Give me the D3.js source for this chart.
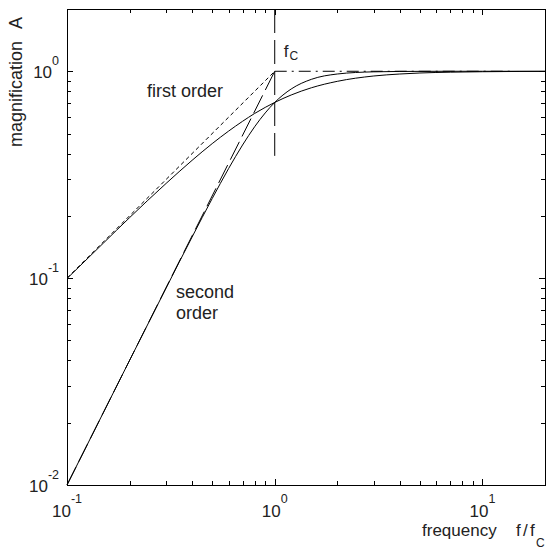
<!DOCTYPE html>
<html>
<head>
<meta charset="utf-8">
<script src="https://cdn.jsdelivr.net/npm/d3@7"></script>
<style>
  body { margin: 0; background: #fff; }
  text { font-family: "Liberation Sans", Arial, sans-serif; fill: #222; }
</style>
</head>
<body>
<div id="chart"></div>
<script>
// values (frequency f/fc, magnification A)
var freq        = [0.1, 0.15, 0.2, 0.3, 0.4, 0.5, 0.6, 0.7, 0.8, 0.9, 1, 1.2, 1.5, 2, 3, 4, 5, 7, 10, 15, 20];
var firstOrder  = [0.0995, 0.148, 0.196, 0.287, 0.371, 0.447, 0.514, 0.573, 0.625, 0.669, 0.707, 0.768, 0.832, 0.894, 0.949, 0.970, 0.981, 0.990, 0.995, 0.998, 0.999];
var secondOrder = [0.01, 0.0225, 0.04, 0.0896, 0.158, 0.2425, 0.339, 0.440, 0.539, 0.629, 0.707, 0.821, 0.914, 0.970, 0.994, 0.998, 0.999, 1.0, 1.0, 1.0, 1.0];

// asymptotes and the cut-off marker
var asymFreq    = [0.1, 1];
var asymFirstA  = [0.1, 1];
var asymSecondA = [0.01, 1];
var plateauFreq = [1, 14];
var plateauA    = [1, 1];
var cutoffFreq  = [1, 1];
var cutoffA     = [2, 0.39];

// tick labels (powers of ten)
var xTickExp = [-1, 0, 1];
var yTickExp = [-2, -1, 0];
var xMinor = [0.2, 0.3, 0.4, 0.5, 0.6, 0.7, 0.8, 0.9, 2, 3, 4, 5, 6, 7, 8, 9];
var yMinor = [0.02, 0.03, 0.04, 0.05, 0.06, 0.07, 0.08, 0.09, 0.2, 0.3, 0.4, 0.5, 0.6, 0.7, 0.8, 0.9];

var width = 546, height = 551,
    margin = {left: 67, right: 1, top: 9, bottom: 66},
    w = width - margin.left - margin.right,
    h = height - margin.top - margin.bottom;

var X = d3.scaleLog().domain([0.1, 20]).range([0, w]),
    Y = d3.scaleLog().domain([0.01, 2]).range([h, 0]);

var svg = d3.select('#chart').append('svg')
    .attr('width', width)
    .attr('height', height)
    .append('g')
    .attr('transform', 'translate(' + margin.left + ',' + margin.top + ')');

function zip(xs, ys) {
    return xs.map(function (x, i) { return [x, ys[i]]; });
}

// inside ticks on all four sides
function ticks(axis, vals, size, transform) {
    svg.append('g')
        .attr('transform', transform || null)
        .call(axis.tickValues(vals).tickSize(size).tickFormat(''))
        .call(function (g) { g.select('.domain').remove(); })
        .selectAll('line').attr('stroke', '#000').attr('shape-rendering', 'crispEdges');
}
var xMajor = xTickExp.map(function (e) { return Math.pow(10, e); }),
    yMajor = yTickExp.map(function (e) { return Math.pow(10, e); });
ticks(d3.axisBottom(X), xMajor, -6, 'translate(0,' + h + ')');
ticks(d3.axisBottom(X), xMinor, -4, 'translate(0,' + h + ')');
ticks(d3.axisTop(X), xMajor, -6);
ticks(d3.axisTop(X), xMinor, -4);
ticks(d3.axisLeft(Y), yMajor, -6);
ticks(d3.axisLeft(Y), yMinor, -4);
ticks(d3.axisRight(Y), yMajor, -6, 'translate(' + w + ',0)');
ticks(d3.axisRight(Y), yMinor, -4, 'translate(' + w + ',0)');

svg.append('rect')
    .attr('x', 0).attr('y', 0).attr('width', w).attr('height', h)
    .attr('fill', 'none').attr('stroke', '#000').attr('shape-rendering', 'crispEdges');

// tick labels 10^n
xTickExp.forEach(function (e) {
    var t = svg.append('text')
        .attr('x', X(Math.pow(10, e)))
        .attr('y', h + 32)
        .attr('text-anchor', 'middle');
    t.append('tspan').attr('font-size', 17).text('10');
    t.append('tspan').attr('font-size', 12.5).attr('dy', -14).text(e);
});
yTickExp.forEach(function (e) {
    var t = svg.append('text')
        .attr('x', -8)
        .attr('y', Y(Math.pow(10, e)) + 7)
        .attr('text-anchor', 'end');
    t.append('tspan').attr('font-size', 17).text('10');
    t.append('tspan').attr('font-size', 12.5).attr('dy', -13).text(e);
});

// curves
var line = d3.line()
    .x(function (d) { return X(d[0]); })
    .y(function (d) { return Y(d[1]); });

function draw(data, dash, curve) {
    svg.append('path')
        .attr('d', line.curve(curve || d3.curveLinear)(data))
        .attr('fill', 'none')
        .attr('stroke', '#000')
        .attr('stroke-width', 1)
        .attr('stroke-dasharray', dash || null);
}

draw(zip(asymFreq, asymFirstA), '4,3');
draw(zip(asymFreq, asymSecondA), '20,6');
draw(zip(plateauFreq, plateauA), '12,5,2,5');
draw(zip(cutoffFreq, cutoffA), '24,7');
draw(zip(freq, firstOrder), null, d3.curveMonotoneX);
draw(zip(freq, secondOrder), null, d3.curveMonotoneX);

// annotations
svg.append('text').attr('x', 147 - margin.left).attr('y', 97 - margin.top)
    .attr('font-size', 18).text('first order');
svg.append('text').attr('x', 176 - margin.left).attr('y', 298 - margin.top)
    .attr('font-size', 18).text('second');
svg.append('text').attr('x', 176 - margin.left).attr('y', 319 - margin.top)
    .attr('font-size', 18).text('order');

var fc = svg.append('text').attr('x', X(1) + 9).attr('y', 57 - margin.top);
fc.append('tspan').attr('font-size', 17).text('f');
fc.append('tspan').attr('font-size', 12).attr('dx', 1).attr('dy', 3).text('C');

// axis titles
var xt = svg.append('text').attr('y', 536 - margin.top).attr('font-size', 17);
xt.append('tspan').attr('x', 422 - margin.left).text('frequency');
xt.append('tspan').attr('x', 516 - margin.left).text('f');
xt.append('tspan').attr('x', 523 - margin.left).text('/');
xt.append('tspan').attr('x', 530 - margin.left).text('f');
xt.append('tspan').attr('x', 536 - margin.left).attr('font-size', 12).attr('dy', 11).text('C');

var yt = svg.append('text')
    .attr('transform', 'translate(' + (22 - margin.left) + ',' + (147 - margin.top) + ') rotate(-90)');
yt.append('tspan').attr('font-size', 18).text('magnification');
yt.append('tspan').attr('font-size', 18).attr('dx', 12).text('A');
</script>
</body>
</html>
